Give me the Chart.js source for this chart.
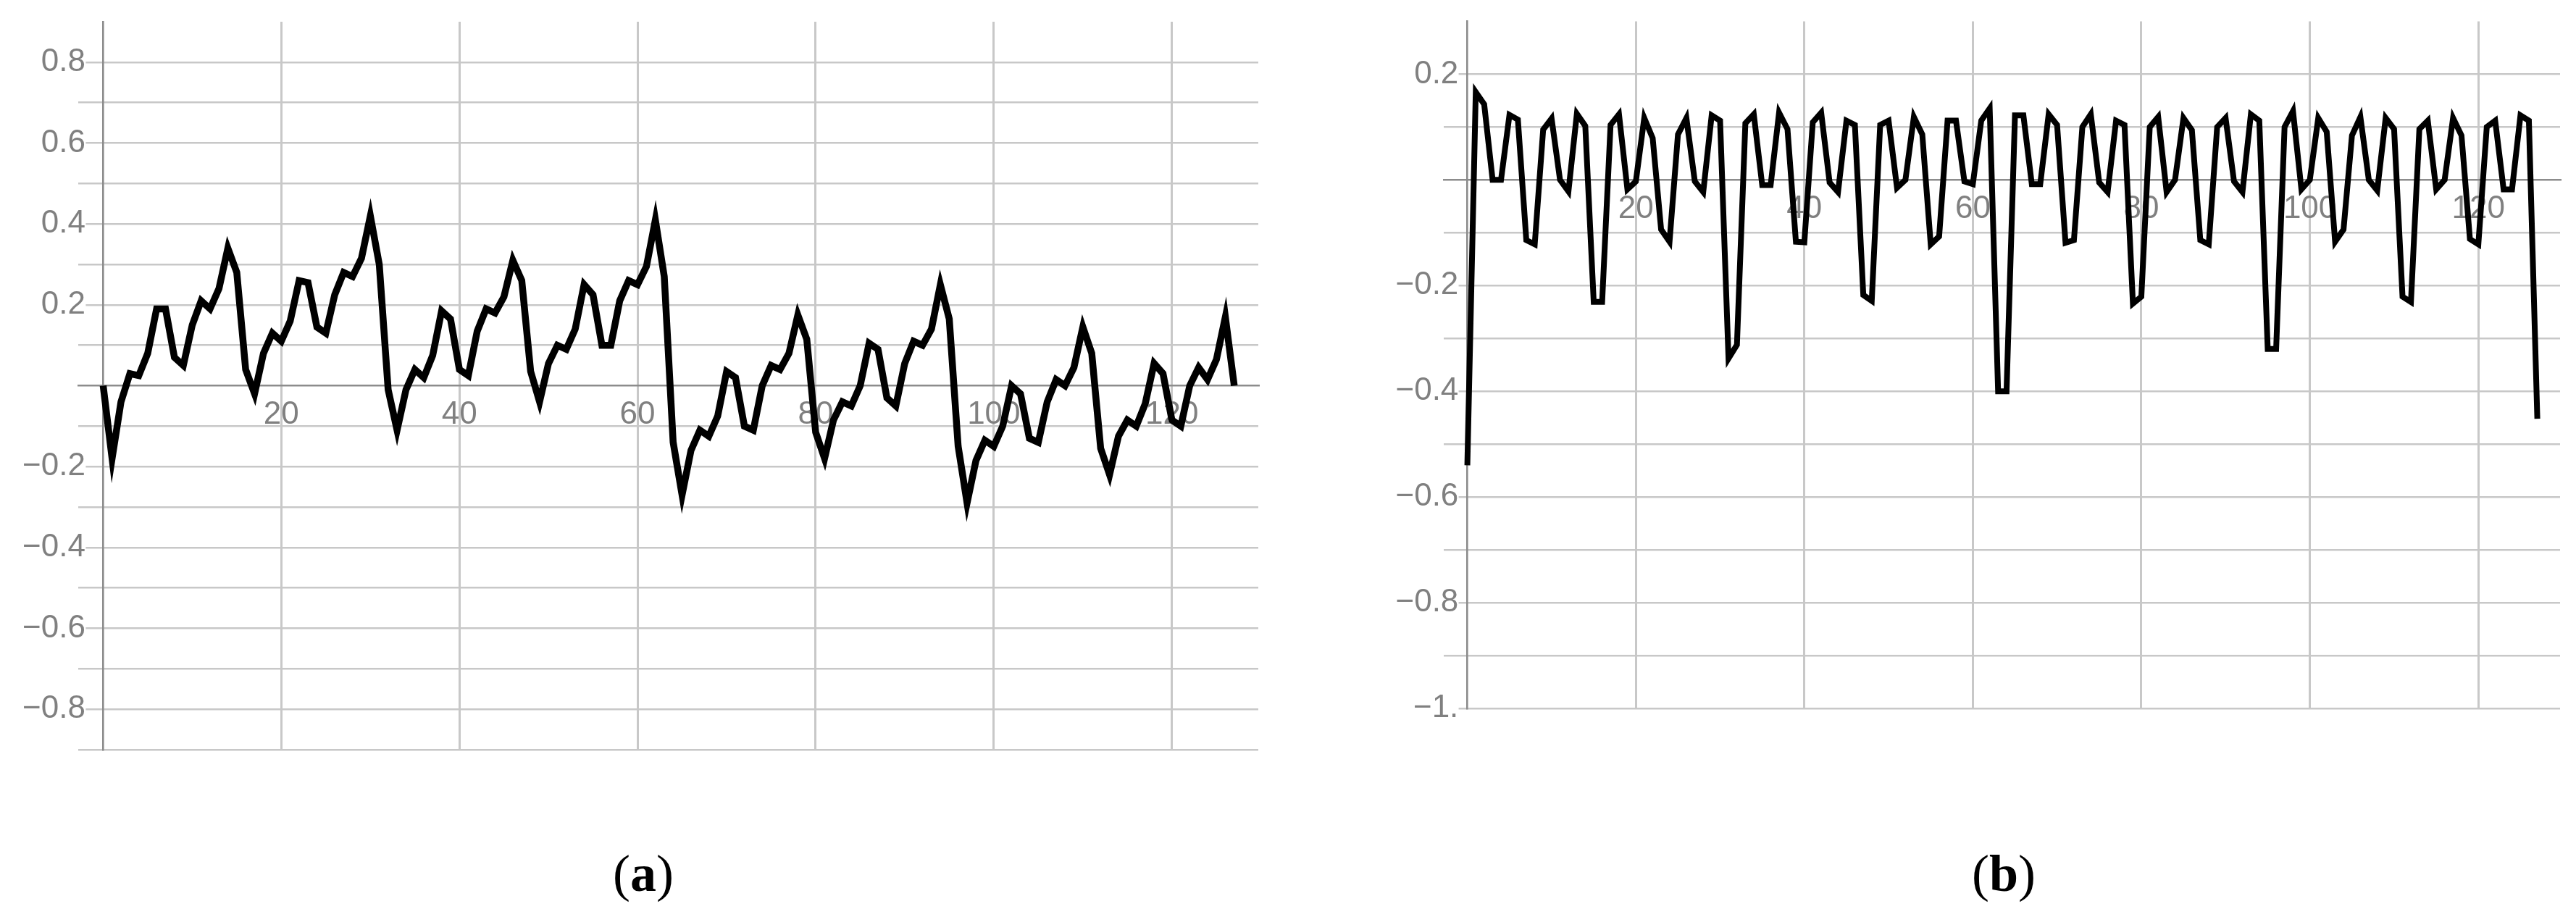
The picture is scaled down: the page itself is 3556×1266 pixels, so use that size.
<!DOCTYPE html>
<html>
<head>
<meta charset="utf-8">
<script src="https://cdn.jsdelivr.net/npm/chart.js@4.4.0/dist/chart.umd.min.js"></script>
<style>
html,body{margin:0;padding:0;background:#fff;}
#wrap{position:relative;width:3556px;height:1266px;overflow:hidden;background:#fff;}
canvas{position:absolute;top:0;}
#cA{left:0;}
#cB{left:1778px;}
.cap{position:absolute;top:1170px;width:300px;margin-left:-150px;text-align:center;
  font-family:"Liberation Serif","Times New Roman",serif;font-size:72px;line-height:72px;color:#000;}
</style>
</head>
<body>
<div id="wrap">
  <canvas id="cA" width="1778" height="1266"></canvas>
  <canvas id="cB" width="1778" height="1266"></canvas>
  <div class="cap" style="left:888px">(<b>a</b>)</div>
  <div class="cap" style="left:2766px">(<b>b</b>)</div>
</div>
<script>
// ---- data (a) ----
const seriesA = [
  0.0, -0.18, -0.04, 0.03, 0.025, 0.08, 0.19, 0.19,
  0.07, 0.05, 0.15, 0.21, 0.19, 0.24, 0.34, 0.28,
  0.04, -0.02, 0.08, 0.13, 0.11, 0.16, 0.26, 0.255,
  0.145, 0.13, 0.225, 0.28, 0.27, 0.315, 0.42, 0.30,
  -0.01, -0.11, -0.01, 0.04, 0.02, 0.075, 0.185, 0.165,
  0.04, 0.025, 0.135, 0.19, 0.18, 0.22, 0.31, 0.26,
  0.035, -0.04, 0.055, 0.10, 0.09, 0.14, 0.25, 0.225,
  0.10, 0.10, 0.21, 0.26, 0.25, 0.295, 0.41, 0.27,
  -0.14, -0.27, -0.16, -0.11, -0.125, -0.075, 0.035, 0.02,
  -0.10, -0.11, 0.0, 0.05, 0.04, 0.08, 0.175, 0.115,
  -0.115, -0.18, -0.085, -0.04, -0.05, 0.0, 0.105, 0.09,
  -0.03, -0.05, 0.055, 0.11, 0.10, 0.14, 0.25, 0.165,
  -0.15, -0.29, -0.185, -0.135, -0.15, -0.10, 0.0, -0.02,
  -0.13, -0.14, -0.04, 0.015, 0.0, 0.045, 0.145, 0.08,
  -0.155, -0.22, -0.125, -0.085, -0.10, -0.045, 0.055, 0.03,
  -0.085, -0.10, 0.0, 0.045, 0.015, 0.065, 0.17, 0.0
];
// ---- data (b) ----
const seriesB = [
  -0.54, 0.166, 0.143, 0.0, 0.0, 0.123, 0.114, -0.114,
  -0.122, 0.095, 0.116, 0.0, -0.022, 0.125, 0.102, -0.231,
  -0.231, 0.104, 0.124, -0.018, -0.003, 0.117, 0.079, -0.094,
  -0.117, 0.086, 0.117, -0.003, -0.023, 0.122, 0.112, -0.338,
  -0.312, 0.107, 0.124, -0.01, -0.01, 0.127, 0.096, -0.117,
  -0.118, 0.109, 0.127, -0.005, -0.023, 0.112, 0.104, -0.218,
  -0.229, 0.104, 0.112, -0.015, 0.0, 0.119, 0.086, -0.122,
  -0.107, 0.112, 0.112, -0.003, -0.008, 0.112, 0.135, -0.40,
  -0.40, 0.122, 0.122, -0.008, -0.008, 0.124, 0.104, -0.119,
  -0.114, 0.10, 0.124, -0.005, -0.023, 0.112, 0.104, -0.234,
  -0.221, 0.10, 0.119, -0.023, 0.0, 0.117, 0.094, -0.114,
  -0.122, 0.10, 0.117, -0.003, -0.023, 0.124, 0.112, -0.32,
  -0.32, 0.10, 0.13, -0.018, 0.0, 0.117, 0.091, -0.117,
  -0.094, 0.084, 0.119, 0.0, -0.02, 0.117, 0.096, -0.221,
  -0.231, 0.096, 0.112, -0.018, 0.0, 0.117, 0.084, -0.112,
  -0.122, 0.10, 0.112, -0.018, -0.018, 0.122, 0.112, -0.452
];

// ---- ticks ----
const xTickValues = [20, 40, 60, 80, 100, 120];
const xTickLabels = ['20', '40', '60', '80', '100', '120'];

const yGridA = [-0.9, -0.8, -0.7, -0.6, -0.5, -0.4, -0.3, -0.2, -0.1, 0, 0.1, 0.2, 0.3, 0.4, 0.5, 0.6, 0.7, 0.8];
const yLabelValuesA = [0.8, 0.6, 0.4, 0.2, -0.2, -0.4, -0.6, -0.8];
const yLabelTextsA = ['0.8', '0.6', '0.4', '0.2', '\u22120.2', '\u22120.4', '\u22120.6', '\u22120.8'];

const yGridB = [-1, -0.9, -0.8, -0.7, -0.6, -0.5, -0.4, -0.3, -0.2, -0.1, 0, 0.1, 0.2];
const yLabelValuesB = [0.2, -0.2, -0.4, -0.6, -0.8, -1];
const yLabelTextsB = ['0.2', '\u22120.2', '\u22120.4', '\u22120.6', '\u22120.8', '\u22121.'];

const GRID = '#c8c8c8';
const AXIS = '#8c8c8c';
const TXT = '#808080';
const FONT = {family: '"Liberation Sans", Arial, sans-serif', size: 44};

function findLabel(values, texts, v) {
  for (let k = 0; k < values.length; k++) {
    if (Math.abs(values[k] - v) < 1e-6) return texts[k];
  }
  return '';
}

function makeChart(id, cfg) {
  const pts = cfg.series.map((v, i) => ({x: i, y: v}));
  const gap = cfg.gap;
  return new Chart(document.getElementById(id), {
    type: 'line',
    data: {datasets: [{
      data: pts, borderColor: '#000', borderWidth: cfg.lineWidth,
      pointRadius: 0, tension: 0, fill: false, borderJoinStyle: 'miter'
    }]},
    options: {
      responsive: false, animation: false, devicePixelRatio: 1,
      layout: {padding: cfg.padding},
      plugins: {legend: {display: false}, tooltip: {enabled: false}, title: {display: false}},
      scales: {
        x: {
          type: 'linear', min: -2.8, max: 129.7, position: {y: 0},
          afterBuildTicks: s => { s.ticks = xTickValues.map(v => ({value: v})); },
          ticks: {
            autoSkip: false, maxRotation: 0, minRotation: 0, padding: 14,
            color: TXT, font: FONT,
            callback: v => findLabel(xTickValues, xTickLabels, v)
          },
          grid: {color: GRID, lineWidth: 3, drawTicks: false},
          border: {display: true, color: AXIS, width: 2.6}
        },
        y: {
          type: 'linear', min: cfg.yMin, max: cfg.yMax, position: {x: 0},
          afterBuildTicks: s => { s.ticks = cfg.yGrid.map(v => ({value: v})); },
          ticks: {
            autoSkip: false, color: TXT, font: FONT,
            callback: v => { const t = findLabel(cfg.yLabelValues, cfg.yLabelTexts, v); return t ? t + gap : ''; },
            showLabelBackdrop: true,
            backdropColor: ctx => findLabel(cfg.yLabelValues, cfg.yLabelTexts, ctx.tick.value) ? '#ffffff' : 'rgba(0,0,0,0)',
            backdropPadding: {top: 0, bottom: 0, left: 2, right: cfg.gapPx}
          },
          grid: {
            color: ctx => Math.abs(ctx.tick.value) < 1e-9 ? 'rgba(0,0,0,0)' : GRID,
            lineWidth: 2.6, drawTicks: false
          },
          border: {display: true, color: AXIS, width: 2.6}
        }
      }
    }
  });
}

makeChart('cA', {
  series: seriesA, lineWidth: 9.5,
  padding: {left: 108, right: 41, top: 30, bottom: 231},
  yMin: -0.9, yMax: 0.9, yGrid: yGridA,
  yLabelValues: yLabelValuesA, yLabelTexts: yLabelTextsA,
  gap: '  ', gapPx: -24
});
makeChart('cB', {
  series: seriesB, lineWidth: 8,
  padding: {left: 215, right: 22, top: 29, bottom: 288},
  yMin: -1, yMax: 0.3, yGrid: yGridB,
  yLabelValues: yLabelValuesB, yLabelTexts: yLabelTextsB,
  gap: ' ', gapPx: -12
});
</script>
</body>
</html>
